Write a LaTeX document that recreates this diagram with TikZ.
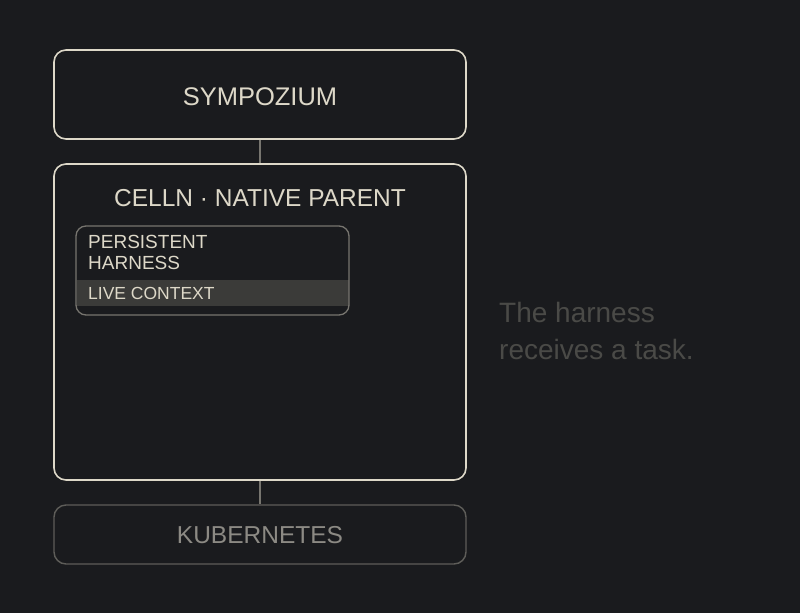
\documentclass[tikz,border=0pt]{standalone}
\usepackage{fontspec}
\setmainfont{Liberation Sans}
\definecolor{bg}{HTML}{1A1B1E}
\definecolor{cream}{HTML}{DDD8C8}
\definecolor{lineg}{HTML}{77756F}
\definecolor{kubeg}{HTML}{5E5D59}
\definecolor{kubet}{HTML}{8C8A84}
\definecolor{band}{HTML}{3B3B39}
\definecolor{dimt}{HTML}{4A4A47}
\begin{document}
\begin{tikzpicture}[x=1pt,y=-1pt,
  bigbox/.style={draw=cream,line width=1.6pt,rounded corners=12pt,fill=bg},
  kubebox/.style={draw=kubeg,line width=1.4pt,rounded corners=12pt,fill=bg},
  harnbox/.style={draw=lineg,line width=1.3pt,rounded corners=10pt},
  conn/.style={draw=lineg,line width=1.3pt},
  title/.style={text=cream,font=\fontsize{25.5}{30}\selectfont,inner sep=0pt},
  small/.style={text=cream,font=\fontsize{19}{20}\selectfont,inner sep=0pt,anchor=north west,align=left},
  note/.style={text=dimt,font=\fontsize{28}{37}\selectfont,inner sep=0pt,anchor=north west,align=left}]
\fill[bg] (0,0) rectangle (800,613);
\useasboundingbox (0,0) rectangle (800,613);
% boxes
\node[bigbox,minimum width=412pt,minimum height=89pt] (sym) at (260,94.5) {};
\node[bigbox,minimum width=412pt,minimum height=316pt] (cell) at (260,322) {};
\node[kubebox,minimum width=412pt,minimum height=59pt] (kube) at (260,534.5) {};
\draw[conn] (sym.south) -- (cell.north);
\draw[conn] (cell.south) -- (kube.north);
% titles
\node[title] (symt) at (260,97) {SYMPOZIUM};
\node[title,font=\fontsize{24.5}{30}\selectfont] (cellt) at (260,198) {CELLN · NATIVE PARENT};
\node[title,text=kubet,font=\fontsize{24.5}{28}\selectfont] (kubet) at (260,535) {KUBERNETES};
% inner harness box
\node[fill=band,minimum width=272pt,minimum height=26pt,inner sep=0pt] (live) at (213,293) {};
\node[harnbox,minimum width=273pt,minimum height=89pt] (harn) at (212.5,270.5) {};
\node[small] (harnt) at (88,235) {PERSISTENT\\[1pt]HARNESS};
\node[small,anchor=west,font=\fontsize{17.5}{18}\selectfont] (livet) at (88,293.5) {LIVE CONTEXT};
% note
\node[note] (note) at (499,302) {The harness\\receives a task.};
\end{tikzpicture}
\end{document}
